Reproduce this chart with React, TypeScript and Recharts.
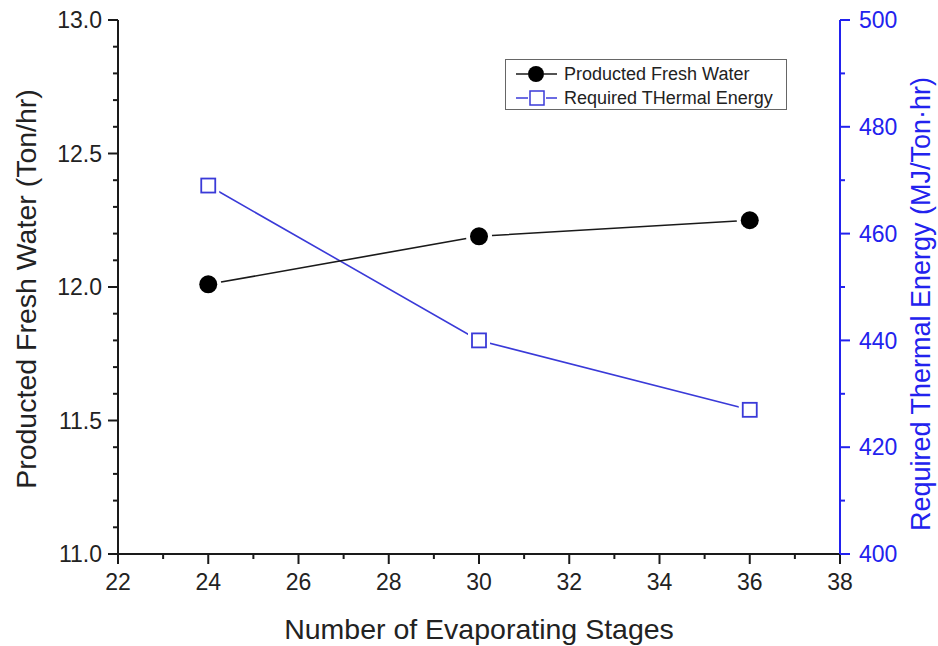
import React from "react";
import { ComposedChart, Line, XAxis, YAxis } from "recharts";

// ---- data ----
const stages = [24, 30, 36];
const freshWater = [12.01, 12.19, 12.25];
const thermalEnergy = [469, 440, 427];

// ---- tick values ----
const xTicks = [22, 23, 24, 25, 26, 27, 28, 29, 30, 31, 32, 33, 34, 35, 36, 37, 38];
const xLabelTicks = [22, 24, 26, 28, 30, 32, 34, 36, 38];
const leftTicks = [11.0, 11.1, 11.2, 11.3, 11.4, 11.5, 11.6, 11.7, 11.8, 11.9, 12.0, 12.1, 12.2, 12.3, 12.4, 12.5, 12.6, 12.7, 12.8, 12.9, 13.0];
const leftLabelTicks = [11.0, 11.5, 12.0, 12.5, 13.0];
const rightTicks = [400, 410, 420, 430, 440, 450, 460, 470, 480, 490, 500];
const rightLabelTicks = [400, 420, 440, 460, 480, 500];

const seriesNames = ["Producted Fresh Water", "Required THermal Energy"];
const xTitle = "Number of Evaporating Stages";
const leftTitle = "Producted Fresh Water (Ton/hr)";
const rightTitle = "Required Thermal Energy (MJ/Ton\u00B7hr)";

const rows = stages.map((s, i) => ({ stage: s, fresh: freshWater[i], thermal: thermalEnergy[i] }));

const FONT = "'Liberation Sans', Arial, Helvetica, sans-serif";
const BLACK = "#1a1a1a";
const BLUE_AXIS = "#2222ee";
const BLUE_LINE = "#3a3ad8";
const TICK_FS = 23;
const TITLE_FS = 28.5;

const isMajor = (v: number, list: number[]) => list.some((m) => Math.abs(m - v) < 1e-6);

const BottomTick = (props: any) => {
  const { x, y, payload } = props;
  const major = isMajor(payload.value, xLabelTicks);
  return (
    <g>
      <line x1={x} x2={x} y1={y} y2={y + (major ? 10 : 5)} stroke={BLACK} strokeWidth={2} />
      {major && (
        <text x={x} y={y + 36} textAnchor="middle" fontSize={TICK_FS} fontFamily={FONT} fill="#222">
          {payload.value}
        </text>
      )}
    </g>
  );
};

const TopTick = (props: any) => {
  const { x, y, payload } = props;
  const major = isMajor(payload.value, xLabelTicks);
  return <line x1={x} x2={x} y1={y} y2={y + (major ? 10 : 5)} stroke={BLACK} strokeWidth={2} />;
};

const LeftTick = (props: any) => {
  const { x, y, payload } = props;
  const major = isMajor(payload.value, leftLabelTicks);
  return (
    <g>
      <line x1={x - (major ? 10 : 5)} x2={x} y1={y} y2={y} stroke={BLACK} strokeWidth={2} />
      {major && (
        <text x={x - 16} y={y} dy="0.36em" textAnchor="end" fontSize={TICK_FS} fontFamily={FONT} fill="#222">
          {Number(payload.value).toFixed(1)}
        </text>
      )}
    </g>
  );
};

const RightTick = (props: any) => {
  const { x, y, payload } = props;
  const major = isMajor(payload.value, rightLabelTicks);
  return (
    <g>
      <line x1={x} x2={x + (major ? 10 : 5)} y1={y} y2={y} stroke={BLUE_AXIS} strokeWidth={2} />
      {major && (
        <text x={x + 19} y={y} dy="0.36em" textAnchor="start" fontSize={TICK_FS} fontFamily={FONT} fill={BLUE_AXIS}>
          {payload.value}
        </text>
      )}
    </g>
  );
};

const CircleDot = (props: any) => {
  const { cx, cy, index } = props;
  if (cx == null || cy == null) return null;
  return (
    <g key={`c-${index}`}>
      <circle cx={cx} cy={cy} r={13} fill="#fff" />
      <circle cx={cx} cy={cy} r={9} fill="#000" />
    </g>
  );
};

const SquareDot = (props: any) => {
  const { cx, cy, index } = props;
  if (cx == null || cy == null) return null;
  return (
    <g key={`s-${index}`}>
      <rect x={cx - 11} y={cy - 11} width={22} height={22} fill="#fff" />
      <rect x={cx - 7} y={cy - 7} width={14} height={14} fill="#fff" stroke={BLUE_LINE} strokeWidth={1.8} />
    </g>
  );
};

const LeftTitle = (props: any) => {
  const { viewBox } = props;
  const cy = viewBox.y + viewBox.height / 2 + 2;
  const x = 36;
  return (
    <text x={x} y={cy} transform={`rotate(-90 ${x} ${cy})`} textAnchor="middle" fontSize={TITLE_FS} fontFamily={FONT} fill="#222">
      {leftTitle}
    </text>
  );
};

const RightTitle = (props: any) => {
  const { viewBox } = props;
  const cy = viewBox.y + viewBox.height / 2 + 17;
  const x = 930;
  return (
    <text x={x} y={cy} transform={`rotate(-90 ${x} ${cy})`} textAnchor="middle" fontSize={27} fontFamily={FONT} fill={BLUE_AXIS}>
      {rightTitle}
    </text>
  );
};

const BottomTitle = (props: any) => {
  const { viewBox } = props;
  const cx = viewBox.x + viewBox.width / 2;
  return (
    <text x={cx} y={639} textAnchor="middle" fontSize={TITLE_FS} fontFamily={FONT} fill="#222">
      {xTitle}
    </text>
  );
};

const LegendBox = () => (
  <div
    style={{
      position: "absolute",
      left: 505,
      top: 59,
      width: 282,
      height: 51,
      border: "1px solid #666",
      background: "#fff",
      fontFamily: FONT,
      fontSize: 18,
      color: "#222",
      boxSizing: "border-box",
    }}
  >
    <div style={{ position: "absolute", left: 8, top: 3, height: 22, display: "flex", alignItems: "center" }}>
      <svg width={46} height={22}>
        <line x1={2} x2={14} y1={11} y2={11} stroke={BLACK} strokeWidth={1.5} />
        <circle cx={22} cy={11} r={8} fill="#000" />
        <line x1={30} x2={43} y1={11} y2={11} stroke={BLACK} strokeWidth={1.5} />
      </svg>
      <span style={{ marginLeft: 4 }}>{seriesNames[0]}</span>
    </div>
    <div style={{ position: "absolute", left: 8, top: 27, height: 22, display: "flex", alignItems: "center" }}>
      <svg width={46} height={22}>
        <line x1={2} x2={14} y1={11} y2={11} stroke={BLUE_LINE} strokeWidth={1.5} />
        <rect x={16} y={4} width={14} height={14} fill="#fff" stroke={BLUE_LINE} strokeWidth={1.5} />
        <line x1={32} x2={43} y1={11} y2={11} stroke={BLUE_LINE} strokeWidth={1.5} />
      </svg>
      <span style={{ marginLeft: 4 }}>{seriesNames[1]}</span>
    </div>
  </div>
);

export default function App() {
  return (
    <div style={{ position: "absolute", left: 0, top: 0, width: 938, height: 646, background: "#fff" }}>
      <ComposedChart width={938} height={646} data={rows} margin={{ top: 20, right: 0, bottom: 0, left: 0 }}>
        <XAxis
          dataKey="stage"
          type="number"
          domain={[22, 38]}
          ticks={xTicks}
          interval={0}
          height={92}
          tickSize={0}
          tickMargin={0}
          tickLine={false}
          tick={BottomTick}
          axisLine={{ stroke: BLACK, strokeWidth: 2 }}
          label={BottomTitle}
          allowDataOverflow
        />
        <XAxis
          xAxisId="top"
          orientation="top"
          type="number"
          domain={[22, 38]}
          ticks={xTicks}
          interval={0}
          height={0}
          tickSize={0}
          tickMargin={0}
          tickLine={false}
          tick={TopTick}
          axisLine={{ stroke: BLACK, strokeWidth: 2 }}
          allowDataOverflow
        />
        <YAxis
          yAxisId="left"
          type="number"
          domain={[11, 13]}
          ticks={leftTicks}
          interval={0}
          width={118}
          tickSize={0}
          tickMargin={0}
          tickLine={false}
          tick={LeftTick}
          axisLine={{ stroke: BLACK, strokeWidth: 2 }}
          label={LeftTitle}
          allowDataOverflow
        />
        <YAxis
          yAxisId="right"
          orientation="right"
          type="number"
          domain={[400, 500]}
          ticks={rightTicks}
          interval={0}
          width={98}
          tickSize={0}
          tickMargin={0}
          tickLine={false}
          tick={RightTick}
          axisLine={{ stroke: BLUE_AXIS, strokeWidth: 2 }}
          label={RightTitle}
          allowDataOverflow
        />
        <Line
          yAxisId="right"
          dataKey="thermal"
          name={seriesNames[1]}
          stroke={BLUE_LINE}
          strokeWidth={1.6}
          dot={SquareDot}
          activeDot={false}
          isAnimationActive={false}
        />
        <Line
          yAxisId="left"
          dataKey="fresh"
          name={seriesNames[0]}
          stroke={BLACK}
          strokeWidth={1.6}
          dot={CircleDot}
          activeDot={false}
          isAnimationActive={false}
        />
      </ComposedChart>
      <LegendBox />
    </div>
  );
}
